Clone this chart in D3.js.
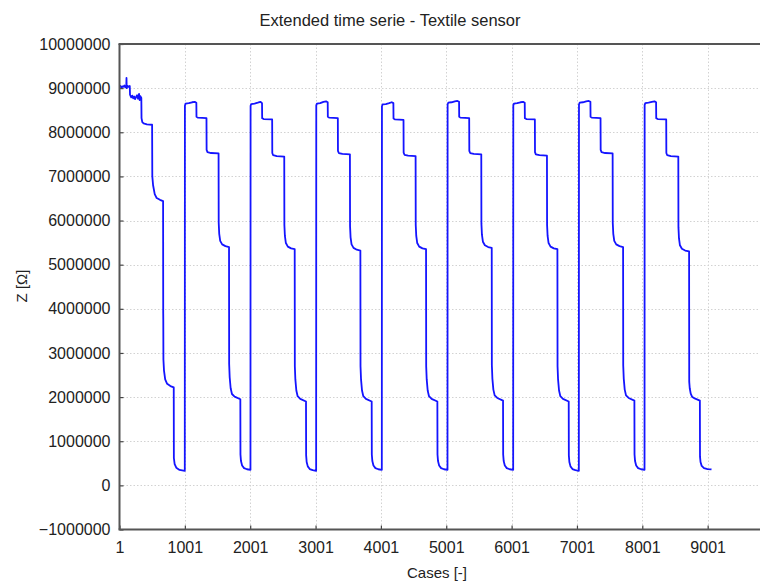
<!DOCTYPE html>
<html>
<head>
<meta charset="utf-8">
<script src="https://cdn.jsdelivr.net/npm/d3@7"></script>
<style>
  html, body { margin: 0; padding: 0; background: #fff; }
  svg { display: block; font-family: "Liberation Sans", Arial, sans-serif; }
</style>
</head>
<body>
<svg id="chart" width="760" height="582"></svg>
<script>
// Impedance of the textile sensor, [case, Z in ohm], one array per loading cycle
const cycle1 = [[1,9030000],[15,9050000],[30,9010000],[45,9040000],[60,9030000],[75,9060000],[90,9020000],[105,9050000],[108,9230000],[111,9000000],[125,9050000],[140,9030000],[158,9050000],[162,8850000],[180,8790000],[195,8830000],[210,8770000],[225,8810000],[240,8750000],[255,8800000],[270,8840000],[285,8760000],[300,8870000],[310,8730000],[320,8820000],[335,8780000],[338,8320000],[350,8230000],[370,8200000],[420,8180000],[500,8170000],[503,7000000],[515,6800000],[540,6600000],[570,6510000],[620,6470000],[668,6440000],[670,3900000],[671,3750000],[673,2850000],[682,2600000],[700,2400000],[730,2300000],[780,2250000],[831,2220000],[833,620000],[845,480000],[870,400000],[920,350000],[1000,330000]];
const cycle2 = [[1002,8600000],[1012,8650000],[1062,8660000],[1112,8680000],[1152,8690000],[1177,8670000],[1179,8350000],[1202,8330000],[1332,8320000],[1334,7600000],[1347,7550000],[1402,7530000],[1517,7520000],[1519,5950000],[1527,5700000],[1542,5540000],[1572,5460000],[1622,5420000],[1677,5400000],[1679,2750000],[1687,2450000],[1702,2200000],[1722,2070000],[1762,2010000],[1850,1950000],[1852,700000],[1860,550000],[1877,450000],[1907,390000],[1952,365000],[2005,350000]];
const cycle3 = [[2007,8600000],[2017,8640000],[2067,8650000],[2117,8670000],[2157,8690000],[2182,8660000],[2184,8320000],[2207,8300000],[2337,8290000],[2339,7530000],[2352,7480000],[2407,7460000],[2522,7450000],[2524,5900000],[2532,5650000],[2547,5490000],[2577,5410000],[2627,5370000],[2682,5350000],[2684,2700000],[2692,2400000],[2707,2150000],[2727,2020000],[2767,1960000],[2855,1900000],[2857,680000],[2865,530000],[2882,430000],[2912,370000],[2957,345000],[3010,330000]];
const cycle4 = [[3012,8610000],[3022,8650000],[3072,8660000],[3122,8690000],[3162,8700000],[3187,8680000],[3189,8350000],[3212,8330000],[3342,8320000],[3344,7580000],[3357,7530000],[3412,7510000],[3527,7500000],[3529,5870000],[3537,5620000],[3552,5460000],[3582,5380000],[3632,5340000],[3687,5320000],[3689,2700000],[3697,2400000],[3712,2150000],[3732,2020000],[3772,1960000],[3860,1900000],[3862,700000],[3870,550000],[3887,450000],[3917,390000],[3962,365000],[4015,350000]];
const cycle5 = [[4017,8590000],[4027,8630000],[4077,8640000],[4127,8660000],[4167,8680000],[4192,8660000],[4194,8310000],[4217,8290000],[4347,8280000],[4349,7540000],[4362,7490000],[4417,7470000],[4532,7460000],[4534,5900000],[4542,5650000],[4557,5490000],[4587,5410000],[4637,5370000],[4692,5350000],[4694,2700000],[4702,2400000],[4717,2150000],[4737,2020000],[4777,1960000],[4865,1900000],[4867,700000],[4875,550000],[4892,450000],[4922,390000],[4967,365000],[5020,350000]];
const cycle6 = [[5022,8630000],[5032,8670000],[5082,8680000],[5132,8700000],[5172,8710000],[5197,8690000],[5199,8350000],[5222,8330000],[5352,8320000],[5354,7580000],[5367,7530000],[5422,7510000],[5537,7500000],[5539,5930000],[5547,5680000],[5562,5520000],[5592,5440000],[5642,5400000],[5697,5380000],[5699,2720000],[5707,2420000],[5722,2170000],[5742,2040000],[5782,1980000],[5870,1920000],[5872,700000],[5880,550000],[5897,450000],[5927,390000],[5972,365000],[6025,350000]];
const cycle7 = [[6027,8610000],[6037,8650000],[6087,8660000],[6137,8680000],[6177,8690000],[6202,8670000],[6204,8320000],[6227,8300000],[6357,8290000],[6359,7550000],[6372,7500000],[6427,7480000],[6542,7470000],[6544,5900000],[6552,5650000],[6567,5490000],[6597,5410000],[6647,5370000],[6702,5350000],[6704,2700000],[6712,2400000],[6727,2150000],[6747,2020000],[6787,1960000],[6875,1900000],[6877,680000],[6885,530000],[6902,430000],[6932,370000],[6977,345000],[7030,330000]];
const cycle8 = [[7032,8630000],[7042,8670000],[7092,8680000],[7142,8700000],[7182,8710000],[7207,8690000],[7209,8350000],[7232,8330000],[7362,8320000],[7364,7600000],[7377,7550000],[7432,7530000],[7547,7520000],[7549,5950000],[7557,5700000],[7572,5540000],[7602,5460000],[7652,5420000],[7707,5400000],[7709,2720000],[7717,2420000],[7732,2170000],[7752,2040000],[7792,1980000],[7880,1920000],[7882,700000],[7890,550000],[7907,450000],[7937,390000],[7982,365000],[8035,350000]];
const cycle9 = [[8037,8620000],[8047,8660000],[8097,8670000],[8147,8690000],[8187,8700000],[8212,8680000],[8214,8320000],[8237,8300000],[8367,8290000],[8369,7530000],[8382,7480000],[8437,7460000],[8552,7450000],[8554,5850000],[8562,5600000],[8577,5440000],[8607,5360000],[8657,5320000],[8717,5300000],[8719,2350000],[8727,2200000],[8742,2080000],[8762,2010000],[8802,1970000],[8882,1920000],[8884,650000],[8892,530000],[8910,440000],[8945,390000],[9000,370000],[9060,360000]];

const xTicks = [1, 1001, 2001, 3001, 4001, 5001, 6001, 7001, 8001, 9001];
const yTicks = [-1000000, 0, 1000000, 2000000, 3000000, 4000000, 5000000, 6000000, 7000000, 8000000, 9000000, 10000000];
const xDomain = [1, 10001];
const yDomain = [-1000000, 10000000];

const series = [].concat(cycle1, cycle2, cycle3, cycle4, cycle5, cycle6, cycle7, cycle8, cycle9);

const svg = d3.select("#chart");
const plotLeft = 119.5, plotRight = 773, plotTop = 44, plotBottom = 529.5;

const x = d3.scaleLinear().domain(xDomain).range([plotLeft, plotRight]);
const y = d3.scaleLinear().domain(yDomain).range([plotBottom, plotTop]);

// dotted grid
const grid = svg.append("g").attr("stroke", "#d2d2d2").attr("stroke-width", 1).attr("stroke-dasharray", "1.5,2");
grid.selectAll(".gx").data(xTicks.slice(1)).join("line")
  .attr("x1", d => Math.round(x(d)) + 0.5).attr("x2", d => Math.round(x(d)) + 0.5)
  .attr("y1", plotTop).attr("y2", plotBottom);
grid.selectAll(".gy").data(yTicks.slice(1, -1)).join("line")
  .attr("x1", plotLeft).attr("x2", 760)
  .attr("y1", d => Math.round(y(d)) + 0.5).attr("y2", d => Math.round(y(d)) + 0.5);

// series
svg.append("path")
  .datum(series)
  .attr("fill", "none")
  .attr("stroke", "#1414ff")
  .attr("stroke-width", 1.8)
  .attr("stroke-linejoin", "round")
  .attr("d", d3.line().x(d => x(d[0])).y(d => y(d[1])));

// axes with inward ticks
const yAxis = d3.axisLeft(y).tickValues(yTicks).tickSize(-4).tickPadding(9).tickFormat(d3.format("d"));
const xAxis = d3.axisBottom(x).tickValues(xTicks).tickSize(-4).tickPadding(12).tickFormat(d3.format("d"));

const gy = svg.append("g").attr("transform", `translate(${plotLeft},0)`).call(yAxis);
const gx = svg.append("g").attr("transform", `translate(0,${plotBottom})`).call(xAxis);
[gy, gx].forEach(g => {
  g.select(".domain").remove();
  g.selectAll(".tick line").attr("stroke", "#444").attr("stroke-width", 1.2);
  g.selectAll("text").attr("fill", "#222").style("font-size", "16px").style("font-family", "'Liberation Sans', Arial, sans-serif");
});

// frame: left, top, bottom
const frame = svg.append("g").attr("stroke", "#555").attr("stroke-width", 2).attr("fill", "none");
frame.append("line").attr("x1", plotLeft).attr("x2", plotLeft).attr("y1", plotTop).attr("y2", plotBottom);
frame.append("line").attr("x1", plotLeft - 1).attr("x2", 760).attr("y1", plotTop).attr("y2", plotTop);
frame.append("line").attr("x1", plotLeft - 1).attr("x2", 760).attr("y1", plotBottom).attr("y2", plotBottom);

// titles
svg.append("text").attr("x", 390).attr("y", 26).attr("text-anchor", "middle")
  .attr("fill", "#222").style("font-size", "16.5px").text("Extended time serie - Textile sensor");
svg.append("text").attr("x", 437).attr("y", 578).attr("text-anchor", "middle")
  .attr("fill", "#222").style("font-size", "15px").text("Cases [-]");
svg.append("text").attr("transform", "translate(27,286) rotate(-90)").attr("text-anchor", "middle")
  .attr("fill", "#222").style("font-size", "15px").text("Z [Ω]");
</script>
</body>
</html>
